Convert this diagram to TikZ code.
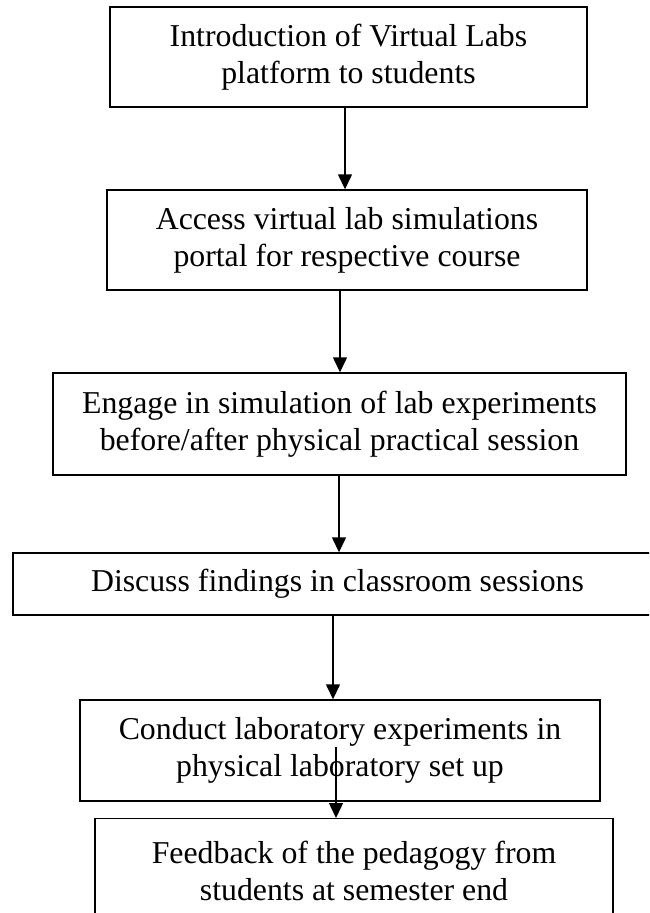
\documentclass[tikz,border=0pt]{standalone}
\usepackage{fontspec}
\setmainfont{Liberation Serif}
\usetikzlibrary{arrows.meta}
\begin{document}
\begin{tikzpicture}[x=1pt,y=-1pt]
	\tikzstyle{every node}=[font=\fontsize{31.8pt}{37pt}\selectfont]
	\tikzstyle{stepbox}=[draw, line width=1.4pt, inner sep=0pt, align=center]
	\tikzstyle{flowarrow}=[-{Triangle[width=14pt,length=15pt]}, line width=1.4pt]
	
	\useasboundingbox (0,0) rectangle (649,913);
	\clip (0,0) rectangle (649,913);
	
	\node[stepbox, minimum width=477pt, minimum height=100pt] (intro) at (348.5,57) {Introduction of Virtual Labs\\platform to students};
	\node[stepbox, minimum width=480pt, minimum height=100pt] (access) at (347,240) {Access virtual lab simulations\\portal for respective course};
	\node[stepbox, minimum width=573pt, minimum height=102pt] (engage) at (339.5,424) {Engage in simulation of lab experiments\\before/after physical practical session};
	\node[stepbox, minimum width=649pt, minimum height=62pt] (discuss) at (337.5,584) {Discuss findings in classroom sessions};
	\node[stepbox, minimum width=520pt, minimum height=101pt] (conduct) at (340,750.5) {Conduct laboratory experiments in\\physical laboratory set up};
	\node[stepbox, minimum width=518pt, minimum height=104pt, anchor=north] (feedback) at (354,818) {Feedback of the pedagogy from\\students at semester end};
	
	\coordinate (c1) at (345,0);
	\coordinate (c2) at (340,0);
	\coordinate (c3) at (339,0);
	\coordinate (c4) at (333,0);
	\coordinate (c5) at (336,747);
	
	\draw[flowarrow] (intro.south -| c1) -- (access.north -| c1);
	\draw[flowarrow] (access.south -| c2) -- (engage.north -| c2);
	\draw[flowarrow] (engage.south -| c3) -- (discuss.north -| c3);
	\draw[flowarrow] (discuss.south -| c4) -- (conduct.north -| c4);
	\draw[flowarrow] (c5) -- (feedback.north -| c5);
	
\end{tikzpicture}
\end{document}
